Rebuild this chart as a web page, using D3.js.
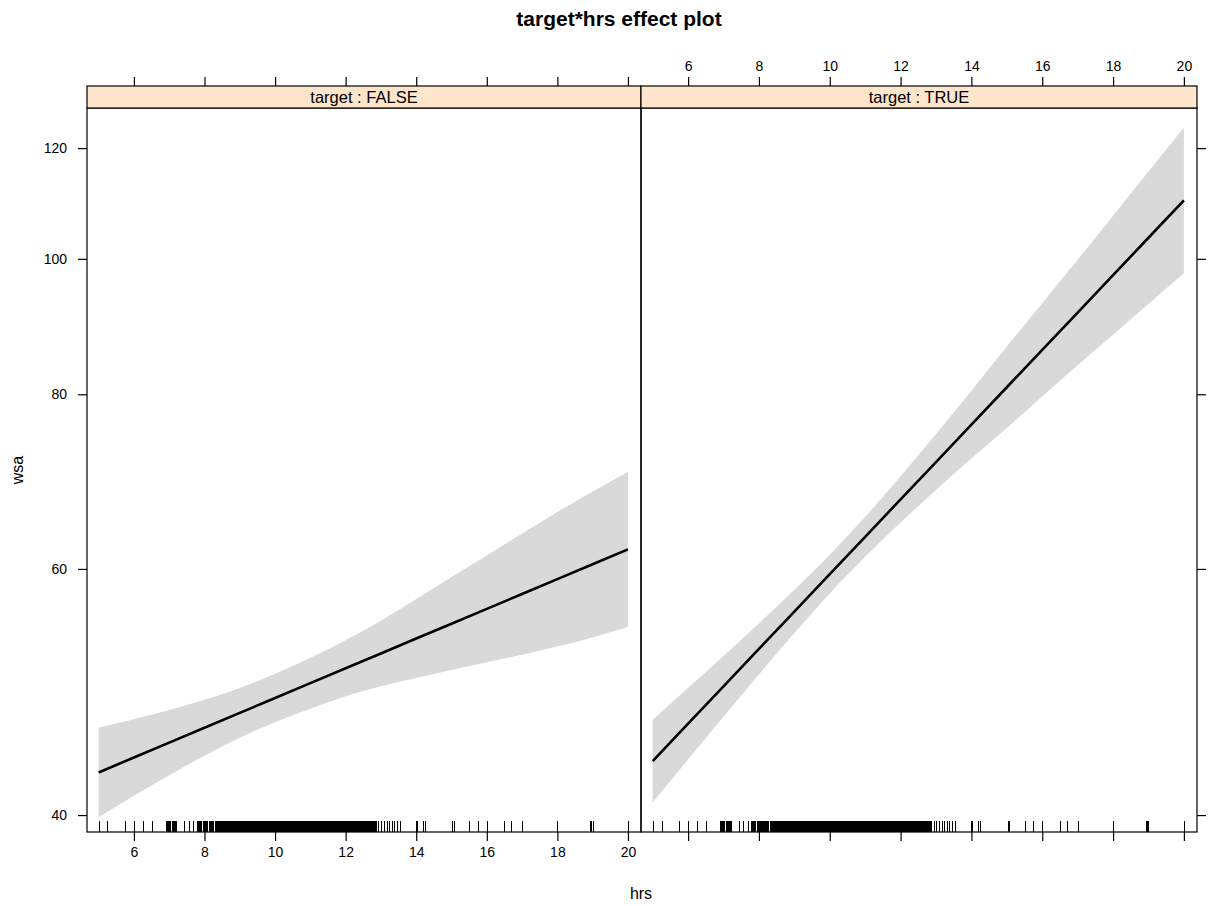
<!DOCTYPE html>
<html><head><meta charset="utf-8">
<script src="https://cdn.jsdelivr.net/npm/d3@7"></script>
<style>body{margin:0;background:#fff} svg{display:block} text{font-family:"Liberation Sans",Arial,sans-serif;fill:#000}</style>
</head><body><svg id="chart" width="1208" height="906"></svg>
<script>
// ---- data ----
const panelLabels = ["target : FALSE", "target : TRUE"];
const hrsGrid = [5,6,7,8,9,10,11,12,13,14,15,16,17,18,19,20];
const fitFalse   = [42.91,43.98,45.07,46.19,47.33,48.51,49.71,50.94,52.20,53.50,54.82,56.18,57.57,59.00,60.46,61.96];
const lowerFalse = [39.86,41.29,42.72,44.11,45.43,46.61,47.66,48.65,49.46,50.13,50.80,51.45,52.10,52.80,53.60,54.52];
const upperFalse = [46.20,46.84,47.55,48.36,49.31,50.48,51.84,53.34,55.10,57.09,59.20,61.35,63.60,65.90,68.15,70.42];
const fitTrue    = [43.72,46.50,49.45,52.59,55.93,59.49,63.26,67.28,71.55,76.10,80.93,86.07,91.53,97.34,103.53,110.10];
const lowerTrue  = [40.85,43.84,47.04,50.43,53.96,57.62,61.21,64.77,68.34,71.96,75.69,79.70,83.91,88.26,92.84,97.65];
const upperTrue  = [46.80,49.33,51.99,54.85,57.98,61.42,65.38,69.89,74.92,80.48,86.54,92.96,99.85,107.37,115.46,124.14];
const rugHrs = [5,5.25,5.75,6,6.25,6.5,
  6.9,6.925,6.95,6.975,7,7.025,7.075,7.1,7.125,7.15,7.175,7.2,
  7.43,7.55,7.68,7.775,7.8,7.825,7.85,7.875,7.9,
  7.95,7.975,8,8.025,8.05,8.075,8.125,8.15,8.175,8.2,8.225,8.25,
  8.3,8.325,8.35,8.375,8.4,8.425,8.45,8.475,8.5,8.525,8.55,8.575,8.6,8.625,8.65,8.675,8.7,8.725,8.75,8.775,8.8,8.825,8.85,8.875,8.9,8.925,8.95,8.975,
  9,9.025,9.05,9.075,9.1,9.125,9.15,9.175,9.2,9.225,9.25,9.275,9.3,9.325,9.35,9.375,9.4,9.425,9.45,9.475,9.5,9.525,9.55,9.575,9.6,9.625,9.65,9.675,9.7,9.725,9.75,9.775,9.8,9.825,9.85,9.875,9.9,9.925,9.95,9.975,
  10,10.025,10.05,10.075,10.1,10.125,10.15,10.175,10.2,10.225,10.25,10.275,10.3,10.325,10.35,10.375,10.4,10.425,10.45,10.475,10.5,10.525,10.55,10.575,10.6,10.625,10.65,10.675,10.7,10.725,10.75,10.775,10.8,10.825,10.85,10.875,10.9,10.925,10.95,10.975,
  11,11.025,11.05,11.075,11.1,11.125,11.15,11.175,11.2,11.225,11.25,11.275,11.3,11.325,11.35,11.375,11.4,11.425,11.45,11.475,11.5,11.525,11.55,11.575,11.6,11.625,11.65,11.675,11.7,11.725,11.75,11.775,11.8,11.825,11.85,11.875,11.9,11.925,11.95,11.975,
  12,12.025,12.05,12.075,12.1,12.125,12.15,12.175,12.2,12.225,12.25,12.275,12.3,12.325,12.35,12.375,12.4,12.425,12.45,12.475,12.5,12.525,12.55,12.575,12.6,12.625,12.65,12.675,12.7,12.725,12.75,12.775,12.8,12.825,12.85,
  12.93,13,13.08,13.16,13.23,13.3,13.38,13.46,13.54,
  13.98,14.02,14.2,14.25,15.02,15.07,15.5,15.75,16,16.5,16.7,17,18,18.92,18.95,19,20];
const xTicks = [6,8,10,12,14,16,18,20];
const yTicks = [40,60,80,100,120];
const chartTitle = "target*hrs effect plot";
const xTitle = "hrs", yTitle = "wsa";

// ---- layout ----
const svg = d3.select("#chart");
const stripTop = 86, panelTop = 108, panelBottom = 832;
const panelX = [[87,641],[641,1197]];
const series = [
  {fit: fitFalse, lo: lowerFalse, up: upperFalse},
  {fit: fitTrue,  lo: lowerTrue,  up: upperTrue}
];
const y = d3.scaleLog().domain([38.9, 128.2]).range([panelBottom, panelTop]);

svg.append("text").attr("x", 619).attr("y", 26).attr("text-anchor","middle")
  .attr("font-size", 21).attr("font-weight","bold").text(chartTitle);

panelX.forEach((rng, i) => {
  const x = d3.scaleLinear().domain([4.67, 20.37]).range(rng);
  const s = series[i];
  const rows = hrsGrid.map((h, k) => ({h, fit: s.fit[k], lo: s.lo[k], up: s.up[k]}));
  const g = svg.append("g");
  const cid = "clip" + i;
  svg.append("clipPath").attr("id", cid).append("rect")
    .attr("x", rng[0]).attr("y", panelTop).attr("width", rng[1]-rng[0]).attr("height", panelBottom-panelTop);
  const inner = g.append("g").attr("clip-path", `url(#${cid})`);
  inner.append("path").datum(rows)
    .attr("d", d3.area().curve(d3.curveMonotoneX).x(d => x(d.h)).y0(d => y(d.lo)).y1(d => y(d.up)))
    .attr("fill", "#d9d9d9");
  inner.append("path").datum(rows)
    .attr("d", d3.line().x(d => x(d.h)).y(d => y(d.fit)))
    .attr("fill","none").attr("stroke","#000").attr("stroke-width",2.6);
  inner.append("g").selectAll("line").data(rugHrs).join("line")
    .attr("x1", d => Math.round(x(d)) + 0.5).attr("x2", d => Math.round(x(d)) + 0.5)
    .attr("y1", panelBottom).attr("y2", panelBottom - 11)
    .attr("stroke","#000").attr("stroke-width",1).attr("shape-rendering","crispEdges");

  // bottom axis
  const bx = g.append("g").attr("transform", `translate(0,${panelBottom})`)
    .call(d3.axisBottom(x).tickValues(xTicks).tickSize(9).tickPadding(6)
      .tickFormat(i === 0 ? d3.format("d") : () => ""));
  // top axis
  const tx = g.append("g").attr("transform", `translate(0,${stripTop})`)
    .call(d3.axisTop(x).tickValues(xTicks).tickSize(9).tickPadding(6)
      .tickFormat(i === 1 ? d3.format("d") : () => ""));
  [bx, tx].forEach(a => {
    a.select(".domain").remove();
    a.selectAll("text").attr("font-size", 14).attr("font-family", null);
    a.selectAll("line").attr("stroke-width", 1.2);
  });

  // y axes
  if (i === 0) {
    const ly = g.append("g").attr("transform", `translate(${rng[0]},0)`)
      .call(d3.axisLeft(y).tickValues(yTicks).tickSize(9).tickPadding(11).tickFormat(d3.format("d")));
    ly.select(".domain").remove();
    ly.selectAll("text").attr("font-size", 14).attr("font-family", null);
    ly.selectAll("line").attr("stroke-width", 1.2);
  } else {
    const ry = g.append("g").attr("transform", `translate(${rng[1]},0)`)
      .call(d3.axisRight(y).tickValues(yTicks).tickSize(9).tickFormat(() => ""));
    ry.select(".domain").remove();
    ry.selectAll("line").attr("stroke-width", 1.2);
  }

  // panel border
  g.append("rect").attr("x", rng[0]).attr("y", panelTop).attr("width", rng[1]-rng[0])
    .attr("height", panelBottom-panelTop).attr("fill","none").attr("stroke","#000").attr("stroke-width",1.2);
  // strip
  g.append("rect").attr("x", rng[0]).attr("y", stripTop).attr("width", rng[1]-rng[0])
    .attr("height", panelTop-stripTop).attr("fill","#ffe5cc").attr("stroke","#000").attr("stroke-width",1.2);
  g.append("text").attr("x", (rng[0]+rng[1])/2).attr("y", panelTop - 5)
    .attr("text-anchor","middle").attr("font-size",16.5).text(panelLabels[i]);
});

svg.append("text").attr("x", 641).attr("y", 899).attr("text-anchor","middle")
  .attr("font-size",16).text(xTitle);
svg.append("text").attr("transform","translate(23,470) rotate(-90)").attr("text-anchor","middle")
  .attr("font-size",16).text(yTitle);
</script></body></html>
